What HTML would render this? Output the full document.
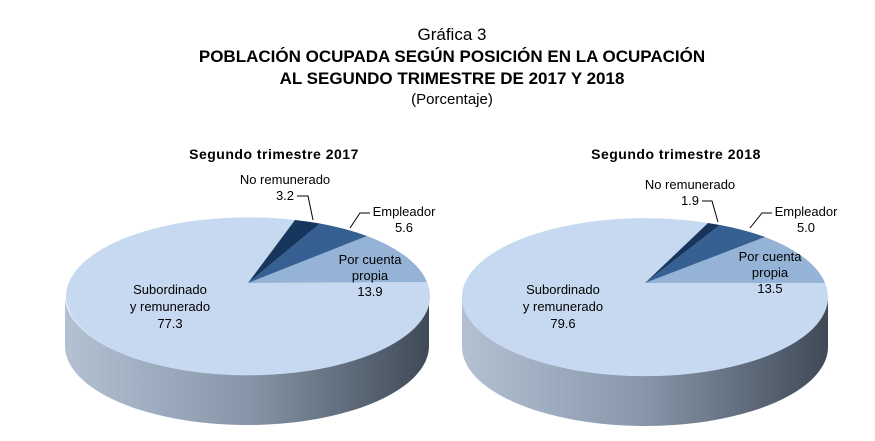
<!DOCTYPE html>
<html><head><meta charset="utf-8"><style>
body{margin:0;background:#fff;width:875px;height:436px;overflow:hidden;font-family:"Liberation Sans",Arial,sans-serif}
</style></head><body>
<svg width="875" height="436" xmlns="http://www.w3.org/2000/svg" font-family="Liberation Sans, Arial, sans-serif">
<defs>
<linearGradient id="side" x1="0" x2="1" y1="0" y2="0">
<stop offset="0" stop-color="#b3c1d3"/><stop offset="0.5" stop-color="#8796a9"/><stop offset="1" stop-color="#3f4a56"/>
</linearGradient>
</defs>
<text x="452" y="40" font-size="17" text-anchor="middle">Gráfica 3</text>
<text x="452" y="62" font-size="17" font-weight="bold" text-anchor="middle">POBLACIÓN OCUPADA SEGÚN POSICIÓN EN LA OCUPACIÓN</text>
<text x="452" y="84" font-size="17" font-weight="bold" text-anchor="middle">AL SEGUNDO TRIMESTRE DE 2017 Y 2018</text>
<text x="452" y="104" font-size="15" text-anchor="middle">(Porcentaje)</text>

<!-- left pie -->
<g>
<text x="274" y="159" font-size="14" font-weight="bold" text-anchor="middle" letter-spacing="0.5">Segundo trimestre 2017</text>
<path d="M65,296 A182,79 0 0 0 429,296 L429,346 A182,79 0 0 1 65,346 Z" fill="url(#side)"/>
<path d="M248,283 L427,282 A182,79 0 1 1 295,220 Z" fill="#c6d9f0"/>
<path d="M248,283 L367,236 A182,79 0 0 1 427,282 Z" fill="#95b3d7"/>
<path d="M248,283 L320,223.5 A182,79 0 0 1 367,236 Z" fill="#376092"/>
<path d="M248,283 L295,220 A182,79 0 0 1 320,223.5 Z" fill="#17365d"/>
<g font-size="13" text-anchor="middle" fill="#000">
<text x="285" y="184">No remunerado</text><text x="285" y="200">3.2</text>
<polyline points="297,196 308,196 313,220" fill="none" stroke="#000"/>
<text x="404" y="216">Empleador</text><text x="404" y="232">5.6</text>
<polyline points="370,213 360,213 350,228" fill="none" stroke="#000"/>
<text x="370" y="264">Por cuenta</text><text x="370" y="280">propia</text><text x="370" y="296">13.9</text>
<text x="170" y="294">Subordinado</text><text x="170" y="311">y remunerado</text><text x="170" y="328">77.3</text>
</g>
</g>

<!-- right pie -->
<g>
<text x="676" y="159" font-size="14" font-weight="bold" text-anchor="middle" letter-spacing="0.5">Segundo trimestre 2018</text>
<path d="M462,297 A183,79 0 0 0 828,297 L828,347 A183,79 0 0 1 462,347 Z" fill="url(#side)"/>
<path d="M645,283 L825,283 A183,79 0 1 1 708,223 Z" fill="#c6d9f0"/>
<path d="M645,283 L765,237 A183,79 0 0 1 825,283 Z" fill="#95b3d7"/>
<path d="M645,283 L720,225 A183,79 0 0 1 765,237 Z" fill="#376092"/>
<path d="M645,283 L708,223 A183,79 0 0 1 720,225 Z" fill="#17365d"/>
<g font-size="13" text-anchor="middle" fill="#000">
<text x="690" y="189">No remunerado</text><text x="690" y="205">1.9</text>
<polyline points="702,201 712,201 718,222" fill="none" stroke="#000"/>
<text x="806" y="216">Empleador</text><text x="806" y="232">5.0</text>
<polyline points="772,213 762,213 750,228" fill="none" stroke="#000"/>
<text x="770" y="261">Por cuenta</text><text x="770" y="277">propia</text><text x="770" y="293">13.5</text>
<text x="563" y="294">Subordinado</text><text x="563" y="311">y remunerado</text><text x="563" y="328">79.6</text>
</g>
</g>
</svg>
</body></html>
